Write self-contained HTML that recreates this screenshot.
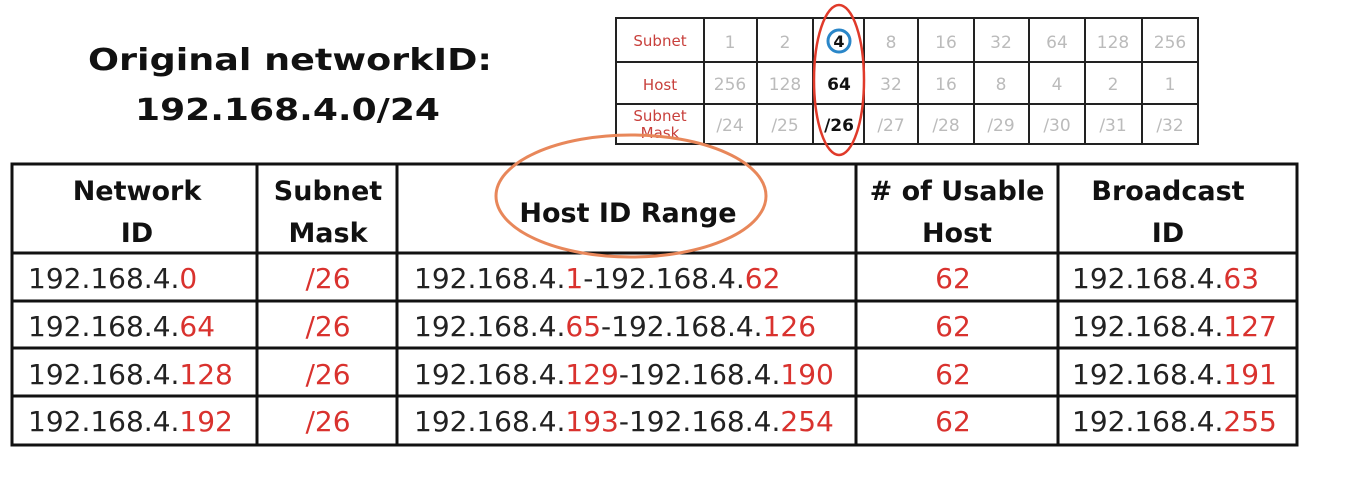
<!DOCTYPE html>
<html><head><meta charset="utf-8"><style>
html,body{margin:0;padding:0;background:#fff;width:1345px;height:488px;overflow:hidden}
svg{display:block}
text{font-family:"DejaVu Sans","Liberation Sans",sans-serif}
.h{font-weight:bold;font-size:27px;fill:#111}
.d{font-size:28px;fill:#222}
.r{fill:#d9322e}
.s{font-size:17px;fill:#bbb}
.sl{font-size:15px;fill:#c8403c}
</style></head><body>
<svg width="1345" height="488" xmlns="http://www.w3.org/2000/svg">
<text x="88" y="70" font-size="30" fill="#111" font-weight="bold" textLength="404" lengthAdjust="spacingAndGlyphs">Original networkID:</text>
<text x="135" y="120" font-size="30" fill="#111" font-weight="bold" textLength="305" lengthAdjust="spacingAndGlyphs">192.168.4.0/24</text>

<!-- small table -->
<g stroke="#222" stroke-width="2" fill="none">
<rect x="616" y="18" width="582" height="126"/>
<line x1="616" y1="62" x2="1198" y2="62"/><line x1="616" y1="104" x2="1198" y2="104"/>
<line x1="704" y1="18" x2="704" y2="144"/><line x1="757" y1="18" x2="757" y2="144"/>
<line x1="813" y1="18" x2="813" y2="144"/><line x1="864" y1="18" x2="864" y2="144"/>
<line x1="918" y1="18" x2="918" y2="144"/><line x1="974" y1="18" x2="974" y2="144"/>
<line x1="1029" y1="18" x2="1029" y2="144"/><line x1="1085" y1="18" x2="1085" y2="144"/>
<line x1="1142" y1="18" x2="1142" y2="144"/>
</g>
<g text-anchor="middle">
<text class="sl" x="660" y="46">Subnet</text>
<text class="sl" x="660" y="90">Host</text>
<text class="sl" x="660" y="121">Subnet</text>
<text class="sl" x="660" y="138">Mask</text>
<g class="s">
<text x="730" y="48">1</text><text x="785" y="48">2</text><text x="891" y="48">8</text><text x="946" y="48">16</text><text x="1001" y="48">32</text><text x="1057" y="48">64</text><text x="1113" y="48">128</text><text x="1170" y="48">256</text>
<text x="730" y="90">256</text><text x="785" y="90">128</text><text x="891" y="90">32</text><text x="946" y="90">16</text><text x="1001" y="90">8</text><text x="1057" y="90">4</text><text x="1113" y="90">2</text><text x="1170" y="90">1</text>
<text x="730" y="131">/24</text><text x="785" y="131">/25</text><text x="891" y="131">/27</text><text x="946" y="131">/28</text><text x="1001" y="131">/29</text><text x="1057" y="131">/30</text><text x="1113" y="131">/31</text><text x="1170" y="131">/32</text>
</g>
<text x="839" y="47" font-size="16" font-weight="bold" fill="#111">4</text>
<text x="839" y="90" font-size="17" font-weight="bold" fill="#111">64</text>
<text x="839" y="131" font-size="17" font-weight="bold" fill="#111">/26</text>
</g>
<circle cx="839" cy="41" r="11" fill="none" stroke="#2a86c8" stroke-width="3"/>
<ellipse cx="839" cy="80" rx="25" ry="75" fill="none" stroke="#e03a2a" stroke-width="2.5"/>

<!-- main table -->
<g stroke="#111" stroke-width="3" fill="none">
<rect x="12" y="164" width="1285" height="281"/>
<line x1="12" y1="253" x2="1297" y2="253"/><line x1="12" y1="301" x2="1297" y2="301"/>
<line x1="12" y1="348" x2="1297" y2="348"/><line x1="12" y1="396" x2="1297" y2="396"/>
<line x1="257" y1="164" x2="257" y2="445"/><line x1="397" y1="164" x2="397" y2="445"/>
<line x1="856" y1="164" x2="856" y2="445"/><line x1="1058" y1="164" x2="1058" y2="445"/>
</g>
<g text-anchor="middle" class="h">
<text x="137" y="200">Network</text><text x="137" y="242">ID</text>
<text x="328" y="200">Subnet</text><text x="328" y="242">Mask</text>
<text x="628" y="222">Host ID Range</text>
<text x="957" y="200"># of Usable</text><text x="957" y="242">Host</text>
<text x="1168" y="200">Broadcast</text><text x="1168" y="242">ID</text>
</g>
<ellipse cx="631" cy="196" rx="135" ry="61" fill="none" stroke="#e8875a" stroke-width="3"/>
<g class="d">
<text x="28" y="288">192.168.4.<tspan class="r">0</tspan></text>
<text x="28" y="336">192.168.4.<tspan class="r">64</tspan></text>
<text x="28" y="384">192.168.4.<tspan class="r">128</tspan></text>
<text x="28" y="431">192.168.4.<tspan class="r">192</tspan></text>
<g text-anchor="middle" class="r"><text x="328" y="288">/26</text><text x="328" y="336">/26</text><text x="328" y="384">/26</text><text x="328" y="431">/26</text>
<text x="953" y="288">62</text><text x="953" y="336">62</text><text x="953" y="384">62</text><text x="953" y="431">62</text></g>
<text x="414" y="288">192.168.4.<tspan class="r">1</tspan>-192.168.4.<tspan class="r">62</tspan></text>
<text x="414" y="336">192.168.4.<tspan class="r">65</tspan>-192.168.4.<tspan class="r">126</tspan></text>
<text x="414" y="384">192.168.4.<tspan class="r">129</tspan>-192.168.4.<tspan class="r">190</tspan></text>
<text x="414" y="431">192.168.4.<tspan class="r">193</tspan>-192.168.4.<tspan class="r">254</tspan></text>
<text x="1072" y="288">192.168.4.<tspan class="r">63</tspan></text>
<text x="1072" y="336">192.168.4.<tspan class="r">127</tspan></text>
<text x="1072" y="384">192.168.4.<tspan class="r">191</tspan></text>
<text x="1072" y="431">192.168.4.<tspan class="r">255</tspan></text>
</g>
</svg>
</body></html>
